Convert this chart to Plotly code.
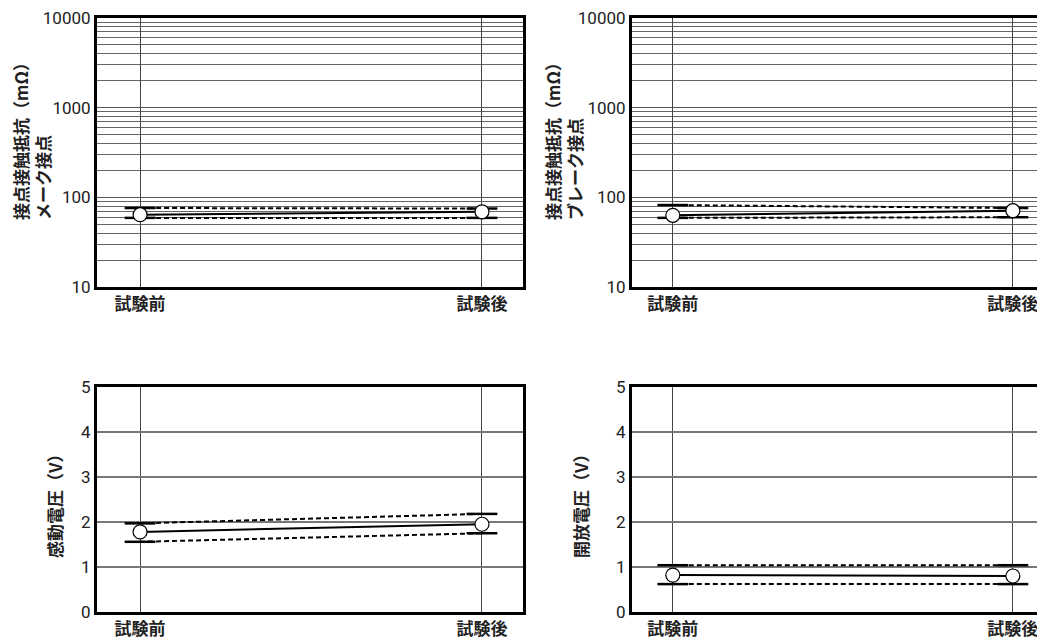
import plotly.graph_objects as go

# ---- data ----
categories = ["試験前", "試験後"]

make_max = [76, 75]
make_mean = [64, 69]
make_min = [59, 59]

break_max = [82, 76]
break_mean = [63, 71]
break_min = [59, 60]

operate_max = [1.97, 2.18]
operate_mean = [1.78, 1.95]
operate_min = [1.56, 1.75]

release_max = [1.04, 1.04]
release_mean = [0.82, 0.80]
release_min = [0.62, 0.62]

log_ticks = [10, 100, 1000, 10000]
log_tick_text = ["10", "100", "1000", "10000"]
volt_ticks = [0, 1, 2, 3, 4, 5]

y_titles = [
    "接点接触抵抗（mΩ）<br>メーク接点",
    "接点接触抵抗（mΩ）<br>ブレーク接点",
    "感動電圧（V）",
    "開放電圧（V）",
]

W, H = 1045, 639
OFF = 8  # page body margin
fig = go.Figure()

panels = [
    (make_max, make_mean, make_min, "x", "y"),
    (break_max, break_mean, break_min, "x2", "y2"),
    (operate_max, operate_mean, operate_min, "x3", "y3"),
    (release_max, release_mean, release_min, "x4", "y4"),
]

for mx, mn, mi, xa, ya in panels:
    for series in (mx, mi):
        fig.add_trace(go.Scatter(x=categories, y=series, mode="lines", xaxis=xa, yaxis=ya,
                                 line=dict(color="black", width=2, dash="5px,3px"),
                                 showlegend=False, hoverinfo="skip"))
    fig.add_trace(go.Scatter(x=categories, y=mn, mode="lines", xaxis=xa, yaxis=ya,
                             line=dict(color="black", width=2), showlegend=False))
    fig.add_trace(go.Scatter(x=categories + categories, y=mx + mi, mode="markers",
                             xaxis=xa, yaxis=ya,
                             marker=dict(symbol="line-ew", size=22,
                                         line=dict(color="black", width=2.5)),
                             showlegend=False))
    fig.add_trace(go.Scatter(x=categories, y=mn, mode="markers", xaxis=xa, yaxis=ya,
                             marker=dict(symbol="circle", size=14, color="white",
                                         line=dict(color="black", width=1.2)),
                             showlegend=False))

def px_x(a, b):
    return [(a - OFF) / W, min((b - OFF) / W, 1.0)]

def px_y(top, bottom):
    return [(H - (bottom - OFF)) / H, (H - (top - OFF)) / H]

tick_font = dict(family="Roboto, Noto Sans CJK JP", size=17, color="#222")
cat_font = dict(family="Noto Sans CJK JP", size=17, color="#222", weight="bold")

xdoms = {"x": px_x(97, 523), "x2": px_x(632, 1053), "x3": px_x(97, 523), "x4": px_x(632, 1053)}
xranges = {"x": [-0.126, 1.12], "x2": [-0.12, 1.118], "x3": [-0.126, 1.12], "x4": [-0.12, 1.118]}
ydoms = {"y": px_y(18, 287), "y2": px_y(18, 287), "y3": px_y(387, 612), "y4": px_y(387, 612)}

layout = {}
for xa, ya in [("x", "y"), ("x2", "y2"), ("x3", "y3"), ("x4", "y4")]:
    xkey = "xaxis" if xa == "x" else "xaxis" + xa[1:]
    ykey = "yaxis" if ya == "y" else "yaxis" + ya[1:]
    layout[xkey] = dict(domain=xdoms[xa], range=xranges[xa], type="category",
                        anchor=ya, showline=True, linecolor="black", linewidth=3,
                        mirror=True, showgrid=True, gridcolor="#444", gridwidth=1,
                        ticks="", tickfont=cat_font, zeroline=False, fixedrange=True,
                        automargin=False, ticklabeloverflow="allow")
    if ya in ("y", "y2"):
        layout[ykey] = dict(domain=ydoms[ya], type="log", range=[1, 4], anchor=xa,
                            tickmode="array", tickvals=log_ticks, ticktext=log_tick_text,
                            showline=True, linecolor="black", linewidth=3,
                            mirror=True, showgrid=True, gridcolor="#555",
                            gridwidth=1, ticks="", tickfont=tick_font, zeroline=False,
                            automargin=False, ticklabeloverflow="allow",
                            minor=dict(tickmode="array",
                                       tickvals=[m * 10 ** k for k in range(1, 4) for m in range(2, 10)],
                                       showgrid=True, gridcolor="#666", gridwidth=1, ticks=""))
    else:
        layout[ykey] = dict(domain=ydoms[ya], range=[0, 5], anchor=xa,
                            tickmode="array", tickvals=volt_ticks,
                            showline=True, linecolor="black", linewidth=3,
                            mirror=True, showgrid=True, gridcolor="#777",
                            gridwidth=1.5, ticks="", tickfont=tick_font, zeroline=False,
                            automargin=False, ticklabeloverflow="allow")

title_pos = [(31, 137), (563, 137), (54, 502), (580, 502)]
annotations = []
for txt, (cx, cy) in zip(y_titles, title_pos):
    annotations.append(dict(text=txt, x=(cx - OFF) / W, y=(H - (cy - OFF)) / H,
                            xref="paper", yref="paper",
                            textangle=-90, showarrow=False, align="left",
                            xanchor="center", yanchor="middle",
                            font=dict(family="Noto Sans CJK JP", size=17, color="#222",
                                      weight="bold")))

fig.update_layout(template="none", width=W, height=H, margin=dict(l=0, r=0, t=0, b=0, pad=0),
                  autosize=False,
                  plot_bgcolor="white", paper_bgcolor="white",
                  annotations=annotations, showlegend=False, **layout)

fig.write_html("out.html")
